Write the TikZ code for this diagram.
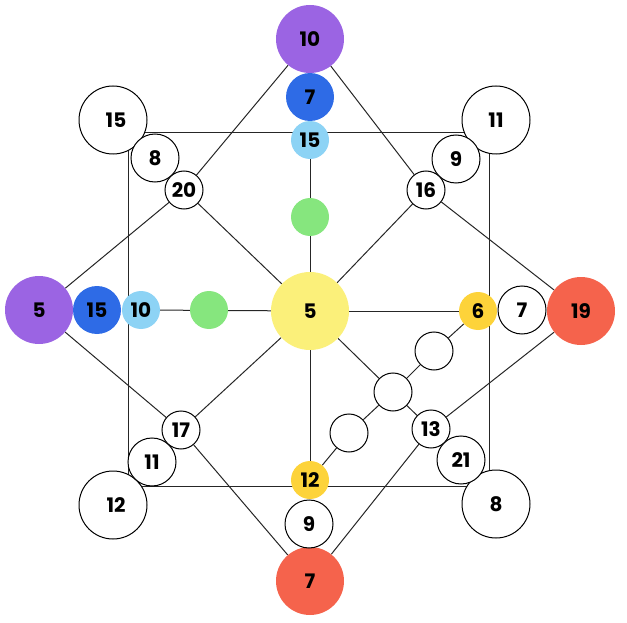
\documentclass[tikz,border=0pt]{standalone}
\usepackage{fontspec}
\setmainfont{Poppins}
\usetikzlibrary{backgrounds}
\definecolor{violet}{HTML}{9B64E3}
\definecolor{royal}{HTML}{2E6BE6}
\definecolor{sky}{HTML}{8DD3F5}
\definecolor{mint}{HTML}{86E67E}
\definecolor{lemon}{HTML}{FBF07A}
\definecolor{gold}{HTML}{FDD33A}
\definecolor{coral}{HTML}{F5634C}

\begin{document}
\begin{tikzpicture}[x=1pt,y=-1pt,
		every node/.style={circle,inner sep=0pt,text=black,font=\bfseries\fontsize{20}{20}\selectfont},
		big/.style={minimum size=68},
		mid/.style={minimum size=48},
		small/.style={minimum size=38},
		ring/.style={draw,fill=white,line width=1pt},
		wire/.style={line width=1pt,black!85}]

		\useasboundingbox (0,0) rectangle (627,623);

		% centre
		\node[fill=lemon,minimum size=78] (c) at (310,311) {5};

		% top arm
		\node[big,fill=violet] (t1) at (310,39) {10};
		\node[mid,fill=royal] (t2) at (310,97) {7};
		\node[small,fill=sky] (t3) at (310,140) {15};
		\node[small,fill=mint] (t4) at (310,217) {};

		% left arm
		\node[big,fill=violet] (l1) at (39,310) {5};
		\node[mid,fill=royal] (l2) at (97,310) {15};
		\node[small,fill=sky] (l3) at (141,310) {10};
		\node[small,fill=mint] (l4) at (209,310) {};

		% right arm
		\node[big,fill=coral] (r1) at (581,311) {19};
		\node[mid,ring] (r2) at (522,310) {7};
		\node[small,fill=gold] (r3) at (478,311) {6};

		% bottom arm
		\node[big,fill=coral] (b1) at (310,581) {7};
		\node[mid,ring] (b2) at (309,524) {9};
		\node[small,fill=gold] (b3) at (310,480) {12};

		% corners
		\node[big,ring] (nw1) at (113,120) {\hspace*{6pt}15};
		\node[mid,ring] (nw2) at (155,158) {8};
		\node[small,ring] (nw3) at (184,190) {20};

		\node[big,ring] (ne1) at (496,120) {11};
		\node[mid,ring] (ne2) at (456,159) {9};
		\node[small,ring] (ne3) at (426,190) {16};

		\node[big,ring] (sw1) at (113,505) {\hspace*{6pt}12};
		\node[mid,ring] (sw2) at (152,462) {11};
		\node[small,ring] (sw3) at (181,430) {17};

		\node[big,ring] (se1) at (496,504) {8};
		\node[mid,ring] (se2) at (461,460) {21};
		\node[small,ring] (se3) at (431,429) {13};

		% inner diagonal
		\node[small,ring] (d1) at (349,433) {};
		\node[small,ring] (d2) at (393,392) {};
		\node[small,ring] (d3) at (434,351) {};

		\begin{scope}[on background layer]
			\draw[wire] (128,133) rectangle (489,486);

			\draw[wire] (t3) -- (c);
			\draw[wire] (l3) -- (c);
			\draw[wire] (c) -- (r3);
			\draw[wire] (c) -- (b3);

			\draw[wire] (t1) -- (nw3);
			\draw[wire] (nw3) -- (l1);
			\draw[wire] (t1) -- (ne3);
			\draw[wire] (ne3) -- (r1);
			\draw[wire] (l1) -- (sw3);
			\draw[wire] (sw3) -- (b1);
			\draw[wire] (r1) -- (se3);
			\draw[wire] (se3) -- (b1);

			\draw[wire] (c) -- (nw3);
			\draw[wire] (c) -- (ne3);
			\draw[wire] (c) -- (sw3);
			\draw[wire] (c) -- (d2);
			\draw[wire] (d2) -- (se3);

			\draw[wire] (b3) -- (d1);
			\draw[wire] (d1) -- (d2);
			\draw[wire] (d2) -- (d3);
			\draw[wire] (d3) -- (r3);
		\end{scope}
\end{tikzpicture}
\end{document}
